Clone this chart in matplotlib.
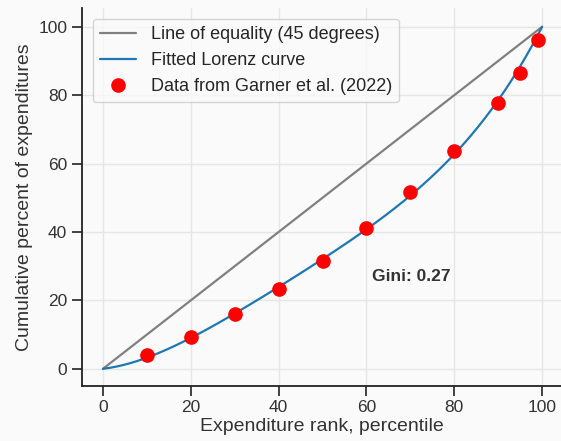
import numpy as np
import matplotlib
matplotlib.use("Agg")
import matplotlib.pyplot as plt
import seaborn as sns

sns.set_theme(style="ticks")
plt.rcParams['font.family'] = ['Arial', 'Liberation Sans', 'DejaVu Sans']

rank = [10, 20, 30, 40, 50, 60, 70, 80, 90, 95, 99]
cum_share = [3.9, 9.3, 16.0, 23.3, 31.4, 41.1, 51.6, 63.6, 77.8, 86.6, 96.1]
gini_label = "Gini: 0.27"

# fit a Lorenz curve to the data, anchored at (0,0) and (100,100)
xs = np.array([0] + rank + [100], dtype=float) / 100
ys = np.array([0] + cum_share + [100], dtype=float) / 100
w = np.ones_like(xs)
w[0] = w[-1] = 50
coef = np.polyfit(xs, ys, 4, w=w)
grid = np.linspace(0, 1, 201)
fit = np.polyval(coef, grid)

fig, ax = plt.subplots(figsize=(5.61, 4.41), dpi=100)
fig.patch.set_facecolor("#fafafa")
ax.set_facecolor("#fafafa")

ax.plot([0, 100], [0, 100], color="gray", lw=1.6, label="Line of equality (45 degrees)")
ax.plot(grid * 100, fit * 100, color="#1f77b4", lw=1.6, label="Fitted Lorenz curve")
ax.plot(rank, cum_share, "o", color="red", ms=9.5, label="Data from Garner et al. (2022)", zorder=3)

ax.text(61.3, 27, gini_label, fontsize=12.5, fontweight="bold", va="center", color="#333333")

ax.set_xlim(-4.8, 104.3)
ax.set_ylim(-5, 105.5)
ax.set_xticks([0, 20, 40, 60, 80, 100])
ax.set_yticks([0, 20, 40, 60, 80, 100])
ax.grid(True, color="#e6e6e6", lw=1)
ax.tick_params(labelsize=12.5, colors="#333333", width=1.3, length=7)
ax.set_xlabel("Expenditure rank, percentile", fontsize=14, color="#333333", labelpad=2)
ax.set_ylabel("Cumulative percent of expenditures", fontsize=14, color="#333333")
for s in ax.spines.values():
    s.set_linewidth(1.3)
    s.set_color("#222222")
sns.despine(ax=ax)
ax.legend(loc="upper left", fontsize=13, facecolor="#fafafa", borderaxespad=0.6)

fig.subplots_adjust(left=0.146, right=1.0, top=0.982, bottom=0.125)
fig.savefig("out.png", dpi=100, facecolor=fig.get_facecolor())
